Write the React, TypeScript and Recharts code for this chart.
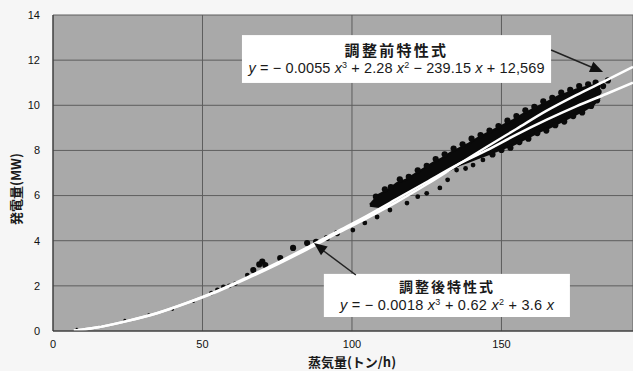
import React from 'react';
import {
  ComposedChart,
  XAxis,
  YAxis,
  ZAxis,
  CartesianGrid,
  Line,
  Area,
  Scatter,
  ReferenceArea,
  ReferenceLine,
  ReferenceDot,
} from 'recharts';

// ---- axis ticks ----
const xTicks = [0, 50, 100, 150];
const yTicks = [0, 2, 4, 6, 8, 10, 12, 14];

// ---- fitted curves ----
const curveX = [7, 15, 25, 35, 45, 55, 65, 75, 85, 95, 105, 115, 125, 135, 145, 155, 165, 175, 185, 194];
const afterY = [0.02, 0.17, 0.45, 0.8, 1.26, 1.78, 2.38, 3.02, 3.7, 4.4, 5.1, 5.85, 6.6, 7.35, 8.0, 8.7, 9.35, 9.95, 10.5, 11.0];
const beforeY = [0.02, 0.17, 0.45, 0.8, 1.25, 1.75, 2.33, 2.95, 3.62, 4.32, 5.0, 5.72, 6.5, 7.33, 8.15, 8.95, 9.75, 10.45, 11.1, 11.7];

// ---- dense measurement band (upper / lower edge of the dot cloud) ----
const bandX = [106, 109, 112, 115, 118, 121, 124, 127, 130, 133, 136, 139, 142, 145, 148, 151, 154, 157, 160, 163, 166, 169, 172, 175, 178, 181, 183];
const bandHigh = [5.6, 6.05, 6.25, 6.55, 6.7, 6.95, 7.2, 7.45, 7.65, 7.9, 8.1, 8.3, 8.55, 8.75, 8.95, 9.15, 9.35, 9.6, 9.8, 10.0, 10.2, 10.4, 10.55, 10.7, 10.8, 10.9, 10.85];
const bandLow = [5.55, 5.5, 5.65, 5.9, 6.1, 6.3, 6.5, 6.75, 6.95, 7.15, 7.35, 7.5, 7.65, 7.8, 7.95, 8.1, 8.25, 8.45, 8.65, 8.85, 9.0, 9.2, 9.4, 9.6, 9.8, 10.05, 10.35];

// ---- scattered individual measurements ----
const dotX = [8, 16, 24, 32, 40, 47, 53, 55, 57, 59, 61, 65, 67, 69, 70, 71, 76, 80.3, 85, 88, 91.6, 95,
  100.3, 104.3, 108.4, 112.7, 118.4, 122, 125, 129.4, 132, 135, 138, 140.5, 143.8,
  108, 111, 113, 116, 119, 122, 125, 128, 131, 134, 137, 140, 143, 146, 149, 152, 155, 158, 161, 164, 167, 170, 173, 176, 179, 181.5,
  147, 150, 153, 156, 159, 162, 165, 168, 171, 174, 177, 180, 182,
  182.5, 184, 185.6];
const dotY = [0.08, 0.2, 0.48, 0.72, 0.95, 1.3, 1.68, 1.82, 1.95, 2.0, 2.1, 2.48, 2.7, 2.95, 3.08, 2.92, 3.23, 3.68, 3.9, 3.95, 4.12, 4.34,
  4.47, 4.79, 5.05, 5.36, 5.67, 5.95, 6.1, 6.34, 6.7, 7.13, 7.2, 7.35, 7.58,
  5.95, 6.28, 6.38, 6.72, 6.83, 7.12, 7.32, 7.62, 7.83, 8.08, 8.27, 8.52, 8.68, 8.88, 9.08, 9.32, 9.52, 9.78, 9.93, 10.17, 10.33, 10.56, 10.68, 10.85, 10.93, 11.0,
  7.82, 8.02, 8.12, 8.37, 8.52, 8.77, 8.88, 9.12, 9.28, 9.52, 9.68, 9.97, 10.22,
  10.6, 10.85, 11.1];
const dotSize = [1, 1, 1, 1, 1, 1, 2, 2, 2, 2, 2, 2, 3, 3, 3, 3, 3, 3, 3, 3, 3, 3,
  2, 2, 2, 2, 2, 2, 2, 2, 2, 2, 2, 2, 2,
  3, 3, 3, 3, 3, 3, 3, 3, 3, 3, 3, 3, 3, 3, 3, 3, 3, 3, 3, 3, 3, 3, 3, 3, 3, 3,
  3, 3, 3, 3, 3, 3, 3, 3, 3, 3, 3, 3, 3,
  3, 3, 3];

// ---- annotation texts ----
const beforeTitle = '調整前特性式';
const afterTitle = '調整後特性式';
const xTitle = '蒸気量(トン/h)';
const yTitle = '発電量(MW)';

const lineAfter = curveX.map((x, i) => ({ x, y: afterY[i] }));
const lineBefore = curveX.map((x, i) => ({ x, y: beforeY[i] }));
const band = bandX.map((x, i) => ({ x, range: [bandLow[i], bandHigh[i]] }));
const dots = dotX.map((x, i) => ({ x, y: dotY[i], z: dotSize[i] }));

const FONT_NUM = "'Liberation Sans', Arial, sans-serif";
const FONT_JP = "'Noto Sans CJK JP', 'Noto Sans', sans-serif";

const arrowShape = (angle: number) => (p: any) => (
  <polygon
    points="0,0 -13,-5.5 -13,5.5"
    transform={`translate(${p.cx},${p.cy}) rotate(${angle})`}
    fill="#111"
  />
);

const Sup = ({ c }: { c: string }) => (
  <tspan baselineShift="super" fontSize={9}>{c}</tspan>
);
const X = () => <tspan fontStyle="italic">x</tspan>;

const formulaBefore = (
  <>
    <tspan fontStyle="italic">y</tspan>
    {' = − 0.0055 '}<X /><Sup c="3" />{' + 2.28 '}<X /><Sup c="2" />{' − 239.15 '}<X />{' + 12,569'}
  </>
);
const formulaAfter = (
  <>
    <tspan fontStyle="italic">y</tspan>
    {' = − 0.0018 '}<X /><Sup c="3" />{' + 0.62 '}<X /><Sup c="2" />{' + 3.6 '}<X />
  </>
);

const boxShape = (
  title: string,
  formula: React.ReactNode,
  opts: { tSize: number; tSpace: number; tBase: number; fBase: number; fLen: number }
) => (p: any) => {
  const { x, y, width, height } = p;
  const cx = x + width / 2;
  return (
    <g>
      <rect x={x} y={y} width={width} height={height} fill="#ffffff" />
      <text
        x={cx}
        y={y + opts.tBase}
        textAnchor="middle"
        fontFamily={FONT_JP}
        fontSize={opts.tSize}
        fontWeight={700}
        letterSpacing={opts.tSpace}
        fill="#1a1a1a"
      >
        {title}
      </text>
      <text
        x={cx}
        y={y + opts.fBase}
        textAnchor="middle"
        fontFamily={FONT_NUM}
        fontSize={14.5}
        fill="#1a1a1a"
        textLength={opts.fLen}
        lengthAdjust="spacing"
      >
        {formula}
      </text>
    </g>
  );
};

const YTitle = (props: any) => {
  const vb = props.viewBox || { x: 0, y: 0, width: 0, height: 0 };
  const cx = vb.x + 15;
  const cy = vb.y + vb.height / 2 + 16;
  return (
    <text
      x={cx}
      y={cy}
      transform={`rotate(-90, ${cx}, ${cy})`}
      textAnchor="middle"
      dominantBaseline="central"
      fontFamily={FONT_JP}
      fontSize={13}
      fontWeight={700}
      fill="#1a1a1a"
    >
      {yTitle}
    </text>
  );
};

const XTitle = (props: any) => {
  const vb = props.viewBox || { x: 0, y: 0, width: 0, height: 0 };
  const cx = vb.x + vb.width / 2 + 9;
  const cy = vb.y + vb.height - 4;
  return (
    <text
      x={cx}
      y={cy}
      textAnchor="middle"
      fontFamily={FONT_JP}
      fontSize={13}
      fontWeight={700}
      fill="#1a1a1a"
    >
      {xTitle}
    </text>
  );
};

export default function App() {
  return (
    <div style={{ position: 'absolute', left: 0, top: 0, width: 633, height: 371, background: '#f6f6f6' }}>
      <ComposedChart width={633} height={371} margin={{ top: 15, right: 0, bottom: 0, left: 0 }}>
        <CartesianGrid fill="#a9a9a9" fillOpacity={1} stroke="#5e5e5e" strokeWidth={1} />
        <XAxis
          type="number"
          dataKey="x"
          domain={[0, 194]}
          ticks={xTicks}
          allowDataOverflow
          height={40}
          tickLine={false}
          tickMargin={3}
          axisLine={{ stroke: '#333' }}
          tick={{ fontSize: 11, fill: '#111', fontFamily: FONT_NUM }}
          label={<XTitle />}
        />
        <YAxis
          type="number"
          domain={[0, 14]}
          ticks={yTicks}
          allowDataOverflow
          width={53}
          tickLine={false}
          tickMargin={7}
          axisLine={{ stroke: '#333' }}
          tick={{ fontSize: 11, fill: '#111', fontFamily: FONT_NUM }}
          label={<YTitle />}
        />
        <ZAxis type="number" dataKey="z" domain={[1, 3]} range={[6, 30]} />
        <Area
          data={band}
          dataKey="range"
          type="linear"
          fill="#0a0a0a"
          fillOpacity={1}
          stroke="#0a0a0a"
          strokeWidth={2}
          isAnimationActive={false}
          dot={false}
          activeDot={false}
        />
        <Scatter data={dots} dataKey="y" fill="#0a0a0a" isAnimationActive={false} zIndex={350} />
        <Line
          data={lineBefore}
          dataKey="y"
          type="monotone"
          stroke="#ffffff"
          strokeWidth={2.5}
          dot={false}
          activeDot={false}
          isAnimationActive={false}
        />
        <Line
          data={lineAfter}
          dataKey="y"
          type="monotone"
          stroke="#ffffff"
          strokeWidth={2.5}
          dot={false}
          activeDot={false}
          isAnimationActive={false}
        />
        <ReferenceArea
          x1={63.2}
          x2={166.6}
          y1={10.99}
          y2={13.11}
          ifOverflow="visible"
          shape={boxShape(beforeTitle, formulaBefore, { tSize: 15, tSpace: 2.3, tBase: 20.5, fBase: 37.5, fLen: 296 })}
        />
        <ReferenceArea
          x1={90.6}
          x2={172.9}
          y1={0.62}
          y2={2.53}
          ifOverflow="visible"
          shape={boxShape(afterTitle, formulaAfter, { tSize: 14, tSpace: 2, tBase: 18.5, fBase: 36, fLen: 214 })}
        />
        <ReferenceLine
          segment={[{ x: 166.6, y: 12.45 }, { x: 181, y: 11.64 }]}
          stroke="#222"
          strokeWidth={1.5}
          ifOverflow="visible"
        />
        <ReferenceDot x={184} y={11.48} r={1} ifOverflow="visible" shape={arrowShape(22.9)} />
        <ReferenceLine
          segment={[{ x: 101.3, y: 2.48 }, { x: 90, y: 3.6 }]}
          stroke="#222"
          strokeWidth={1.5}
          ifOverflow="visible"
        />
        <ReferenceDot x={87.3} y={3.9} r={1} ifOverflow="visible" shape={arrowShape(-142.7)} />
      </ComposedChart>
    </div>
  );
}
